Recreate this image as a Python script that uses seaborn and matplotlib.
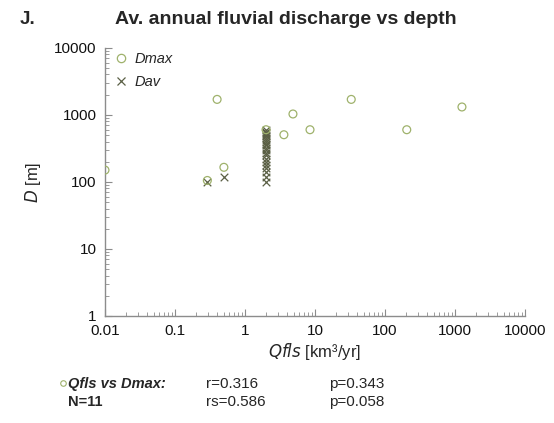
import numpy as np
import pandas as pd
import seaborn as sns
import matplotlib.pyplot as plt
from matplotlib.lines import Line2D
from matplotlib.ticker import LogLocator, NullFormatter, FixedLocator

# Dmax per basin (km3/yr vs m)
qfls_dmax = [0.01, 0.29, 0.4, 0.5, 2.0, 3.6, 4.85, 8.5, 33, 205, 1260]
dmax = [150, 105, 1700, 165, 600, 505, 1030, 600, 1700, 600, 1310]

# Dav values
qfls_dav = [0.29, 0.5] + [2.0] * 21
dav = [100, 120,
       100, 120, 140, 160, 180, 200, 220, 250, 270, 300,
       320, 350, 370, 400, 420, 450, 480, 500, 530, 560, 600]

x_ticks = [0.01, 0.1, 1, 10, 100, 1000, 10000]
y_ticks = [1, 10, 100, 1000, 10000]

dmax_color = "#9fb26c"
dav_color = "#5b6045"
axis_color = "#8c8c8c"

sns.set_style("white")
plt.rcParams["font.family"] = ["Liberation Sans", "DejaVu Sans"]

df_max = pd.DataFrame({"Qfls": qfls_dmax, "D": dmax})
df_av = pd.DataFrame({"Qfls": qfls_dav, "D": dav})

fig = plt.figure(figsize=(5.54, 4.23), dpi=100)
ax = fig.add_axes([0.1895, 0.253, 0.758, 0.634])

sns.scatterplot(data=df_max, x="Qfls", y="D", marker="o", s=32,
                facecolor="none", edgecolor=dmax_color, linewidth=0.9, ax=ax, zorder=3)
sns.scatterplot(data=df_av, x="Qfls", y="D", marker="x", s=30,
                color=dav_color, linewidth=0.9, ax=ax, zorder=2)

ax.set_xscale("log")
ax.set_yscale("log")
ax.set_xlim(0.01, 10000)
ax.set_ylim(1, 10000)
ax.xaxis.set_major_locator(FixedLocator(x_ticks))
ax.yaxis.set_major_locator(FixedLocator(y_ticks))
ax.set_xticklabels([f"{v:g}" for v in x_ticks])
ax.set_yticklabels([f"{v:g}" for v in y_ticks])
ax.xaxis.set_minor_locator(LogLocator(base=10, subs=np.arange(2, 10)))
ax.yaxis.set_minor_locator(LogLocator(base=10, subs=np.arange(2, 10)))
ax.xaxis.set_minor_formatter(NullFormatter())
ax.yaxis.set_minor_formatter(NullFormatter())

for s in ["top", "right"]:
    ax.spines[s].set_visible(False)
for s in ["left", "bottom"]:
    ax.spines[s].set_color(axis_color)
    ax.spines[s].set_linewidth(1.0)

ax.tick_params(which="major", direction="in", length=5, width=0.8, color=axis_color,
               labelsize=11, labelcolor="#111111", pad=6)
ax.tick_params(which="minor", direction="in", length=3, width=0.6, color=axis_color)
ax.tick_params(axis="x", which="both", bottom=True)
ax.tick_params(axis="y", which="both", left=True)

ax.set_xlabel(r"$\it{Qfls}$ [km³/yr]", fontsize=12, labelpad=2)
ax.set_ylabel(r"$\it{D}$ [m]", fontsize=12, labelpad=8)

handles = [
    Line2D([], [], marker="o", linestyle="none", markerfacecolor="none",
           markeredgecolor=dmax_color, markersize=6, markeredgewidth=0.9),
    Line2D([], [], marker="x", linestyle="none", color=dav_color,
           markersize=6, markeredgewidth=0.9),
]
ax.legend(handles, ["Dmax", "Dav"], loc="upper left", frameon=False,
          prop={"style": "italic", "size": 10.5}, handletextpad=0.3,
          handlelength=1.2, borderaxespad=0.1, labelspacing=0.6,
          bbox_to_anchor=(0.0, 1.01))

fig.text(0.035, 0.955, "J.", fontsize=13.5, fontweight="bold", va="center")
fig.text(0.516, 0.955, "Av. annual fluvial discharge vs depth", fontsize=14,
         fontweight="bold", ha="center", va="center")

# stats block
fig.add_artist(Line2D([0.113], [0.094], transform=fig.transFigure, marker="o",
                      markersize=4, markerfacecolor="none",
                      markeredgecolor=dmax_color, markeredgewidth=0.8))
fig.text(0.123, 0.092, "Qfls vs Dmax:", fontsize=10.5, fontweight="bold",
         style="italic", va="center")
fig.text(0.123, 0.050, "N=11", fontsize=10.5, fontweight="bold", va="center")
fig.text(0.372, 0.092, "r=0.316", fontsize=11, va="center")
fig.text(0.372, 0.050, "rs=0.586", fontsize=11, va="center")
fig.text(0.594, 0.092, "p=0.343", fontsize=11, va="center")
fig.text(0.594, 0.050, "p=0.058", fontsize=11, va="center")

fig.savefig("out.png", dpi=100, facecolor="white")
